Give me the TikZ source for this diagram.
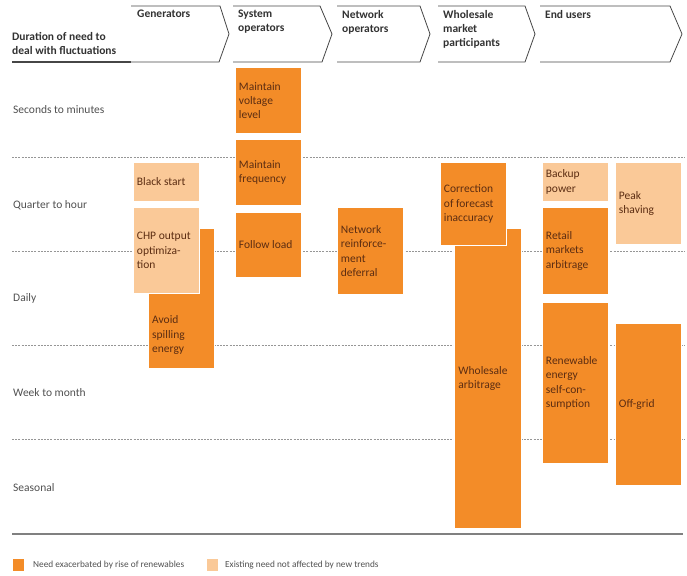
\documentclass[tikz,border=0pt]{standalone}
\usepackage{fontspec}
\setmainfont{Carlito}
\definecolor{orangeD}{RGB}{243,140,40}
\definecolor{orangeL}{RGB}{250,201,152}
\definecolor{boxtext}{RGB}{92,45,18}
\definecolor{hdrtext}{RGB}{50,50,50}
\definecolor{rowtext}{RGB}{80,80,80}
\definecolor{chevline}{RGB}{70,70,70}
\definecolor{gridgray}{RGB}{150,150,150}
\begin{document}
\begin{tikzpicture}[x=1pt,y=-1pt,
  box/.style={rectangle, anchor=north west, draw=white, line width=0.9pt,
    inner xsep=3.5pt, inner ysep=0pt, minimum width=66pt, text width=59pt,
    align=flush left, font=\fontsize{11.5}{14.3}\selectfont, text=boxtext},
  dark/.style={box, fill=orangeD},
  light/.style={box, fill=orangeL},
  boxlabel/.style={anchor=west, inner sep=0pt, align=left,
    font=\fontsize{11.5}{14.8}\selectfont, text=boxtext},
  hdr/.style={anchor=north west, inner sep=0pt, align=left,
    font=\fontsize{11.5}{14}\selectfont\bfseries, text=hdrtext},
  rowlabel/.style={anchor=west, inner sep=0pt,
    font=\fontsize{11.5}{14}\selectfont, text=rowtext},
  chev/.style={draw=chevline, line width=0.8pt, line join=miter},
  gridline/.style={draw=gridgray, line width=0.6pt, dash pattern=on 2pt off 1.2pt},
  legsq/.style={rectangle, anchor=north west, inner sep=0pt, minimum width=11pt, minimum height=12pt},
  legtext/.style={anchor=west, inner sep=0pt, font=\fontsize{9.3}{11}\selectfont, text=rowtext},
]
\useasboundingbox (0,0) rectangle (687,575);

% header chevrons
\draw[chev] (131,6) -- (220,6) -- (229,34) -- (219,62) -- (131,62);
\draw[chev] (233,6) -- (320,6) -- (332,34) -- (322,62) -- (233,62);
\draw[chev] (337,6) -- (420,6) -- (430,34) -- (420,62) -- (337,62);
\draw[chev] (438,6) -- (525,6) -- (535,34) -- (525,62) -- (438,62);
\draw[chev] (540,6) -- (670,6) -- (682,34) -- (670,62) -- (540,62);
\draw[draw=chevline, line width=1.6pt] (12,62) -- (131,62);

\node[hdr] (hdur) at (12,32) {Duration of need to\\deal with fluctuations};
\node[hdr] (hgen) at (137,10) {Generators};
\node[hdr] (hsys) at (238,10) {System\\operators};
\node[hdr] (hnet) at (342,10) {Network\\operators};
\node[hdr] (hwhs) at (443,10) {Wholesale\\market\\participants};
\node[hdr] (hend) at (545,10) {End users};

% row grid
\draw[gridline] (12,157) -- (685,157);
\draw[gridline] (12,251) -- (685,251);
\draw[gridline] (12,345) -- (685,345);
\draw[gridline] (12,439) -- (685,439);
\draw[draw=gray, line width=1.2pt] (12,534) -- (683,534);

\node[rowlabel] (r1) at (13,110) {Seconds to minutes};
\node[rowlabel] (r2) at (13,205) {Quarter to hour};
\node[rowlabel] (r3) at (13,298) {Daily};
\node[rowlabel] (r4) at (13,393) {Week to month};
\node[rowlabel] (r5) at (13,488) {Seasonal};

% generators
\node[light, minimum height=39pt] (black) at (133,162) {Black start};
\node[dark, minimum height=140pt] (spill) at (148,228) {};
\node[boxlabel] (spilltext) at (152,335) {Avoid\\spilling\\energy};
\node[light, minimum height=86pt] (chp) at (133,207) {CHP output\\optimiza-\\tion};

% system operators
\node[dark, minimum height=66pt] (volt) at (235,67) {Maintain\\voltage\\level};
\node[dark, minimum height=66pt] (freq) at (235,139) {Maintain\\frequency};
\node[dark, minimum height=65pt] (load) at (235,212) {Follow load};

% network operators
\node[dark, minimum height=87pt] (netw) at (337,207) {Network\\reinforce-\\ment\\deferral};

% wholesale
\node[dark, minimum height=300pt, minimum width=67pt] (wsarb) at (454,228) {Wholesale\\arbitrage};
\node[dark, minimum height=83pt] (corr) at (440,162) {Correction\\of forecast\\inaccuracy};

% end users
\node[light, minimum height=39pt] (backup) at (542,162) {Backup\\power};
\node[dark, minimum height=87pt] (retail) at (542,207) {Retail\\markets\\arbitrage};
\node[dark, minimum height=161pt] (renew) at (542,302) {Renewable\\energy\\self-con-\\sumption};
\node[light, minimum height=82pt] (peak) at (615,162) {Peak\\shaving};
\node[dark, minimum height=162pt] (offgrid) at (615,323) {Off-grid};

% legend
\node[legsq, fill=orangeD] (leg1) at (13,559) {};
\node[legtext] (leg1t) at (33,565) {Need exacerbated by rise of renewables};
\node[legsq, fill=orangeL] (leg2) at (207,559) {};
\node[legtext] (leg2t) at (225,565) {Existing need not affected by new trends};
\end{tikzpicture}
\end{document}
